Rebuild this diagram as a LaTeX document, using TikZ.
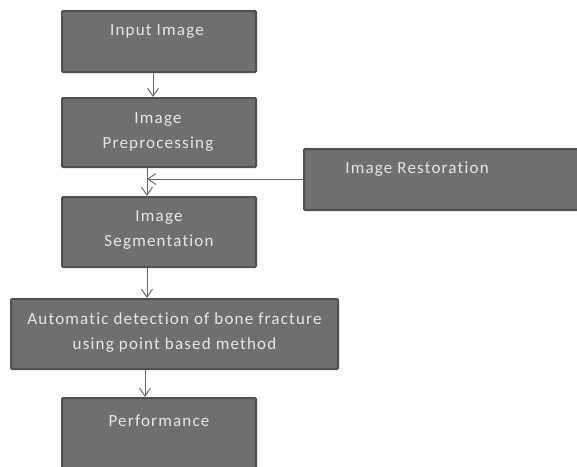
\documentclass[tikz,border=0pt]{standalone}
\usepackage{fontspec}
\setmainfont{Carlito}[LetterSpace=7,Ligatures={NoCommon}]
\usetikzlibrary{arrows.meta}
\definecolor{boxfill}{HTML}{6F6F6F}
\definecolor{boxline}{HTML}{505050}
\definecolor{boxtext}{HTML}{E6E6E6}
\definecolor{arr}{HTML}{6A6A6A}
\begin{document}
\begin{tikzpicture}[x=1pt,y=-1pt,
  box/.style={draw=boxline,line width=2pt,fill=boxfill,rounded corners=1pt,inner sep=0pt},
  lbl/.style={text=boxtext,font=\fontsize{17}{25}\selectfont,align=center,anchor=north,inner sep=0pt},
  conn/.style={draw=arr,line width=1pt,-{Straight Barb[length=8pt,width=11pt]}}]
\useasboundingbox (0,0) rectangle (577,466);
\node[box,minimum width=194pt,minimum height=61pt] (in) at (159,41.5) {};
\node[box,minimum width=194pt,minimum height=69pt] (pre) at (159,132.5) {};
\node[box,minimum width=274pt,minimum height=61pt] (res) at (441,179.5) {};
\node[box,minimum width=194pt,minimum height=70pt] (seg) at (159,232) {};
\node[box,minimum width=327pt,minimum height=70pt] (aut) at (174.5,334) {};
\node[box,minimum width=194pt,minimum height=70pt] (per) at (159,433) {};
\node[lbl] (tin) at (157,24) {Input Image};
\node[lbl] (tpre) at (158,112) {Image\\Preprocessing};
\node[lbl] (tres) at (417,162) {Image Restoration};
\node[lbl] (tseg) at (159,210) {Image\\Segmentation};
\node[lbl] (taut) at (174.5,312) {Automatic detection of bone fracture\\using point based method};
\node[lbl] (tper) at (159,415) {Performance};
\coordinate (j) at (147,179);
\draw[conn] (in.south -| 153,0) -- (pre.north -| 153,0);
\draw[conn] (pre.south -| 147,0) -- (seg.north -| 147,0);
\draw[conn] (res.west |- j) -- (j);
\draw[conn] (seg.south -| 147,0) -- (aut.north -| 147,0);
\draw[conn] (aut.south -| 145,0) -- (per.north -| 145,0);
\end{tikzpicture}
\end{document}
